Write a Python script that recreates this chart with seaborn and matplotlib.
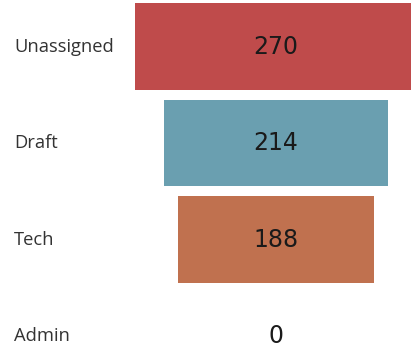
import matplotlib
matplotlib.use("Agg")
import matplotlib.pyplot as plt
import matplotlib.transforms as mtransforms
import seaborn as sns
import pandas as pd

stages = ["Unassigned", "Draft", "Tech", "Admin"]
counts = [270, 214, 188, 0]
colors = ["#BF4B4B", "#6A9FB0", "#C0714F", "#999999"]

sns.set_theme(style="white")
plt.rcParams["font.family"] = ["Open Sans", "DejaVu Sans"]

df = pd.DataFrame({"stage": stages, "count": counts})
df["half"] = df["count"] / 2.0
df["neg_half"] = -df["count"] / 2.0

fig = plt.figure(figsize=(4.11, 3.5), dpi=100)
ax = fig.add_axes([0, 0, 1, 1])

# funnel: each bar is drawn as two halves mirrored around zero
for col in ["half", "neg_half"]:
    sns.barplot(data=df, x=col, y="stage", hue="stage", palette=colors,
                order=stages, hue_order=stages, orient="y", width=0.9,
                saturation=1, linewidth=0, legend=False, ax=ax)

ax.set_xlim(-264.6, 129.4)
ax.set_ylim(3.145, -0.482)
ax.axis("off")

trans = mtransforms.blended_transform_factory(ax.transAxes, ax.transData)
for i, (name, val) in enumerate(zip(stages, counts)):
    ax.text(14 / 411, i, name, transform=trans, ha="left", va="center",
            fontsize=13.2, color="#333333")
    ax.text(0, i, f"{val}", ha="center", va="center", fontsize=17,
            color="#1a1a1a", family=["DejaVu Sans"])

fig.savefig("out.png", dpi=100)
